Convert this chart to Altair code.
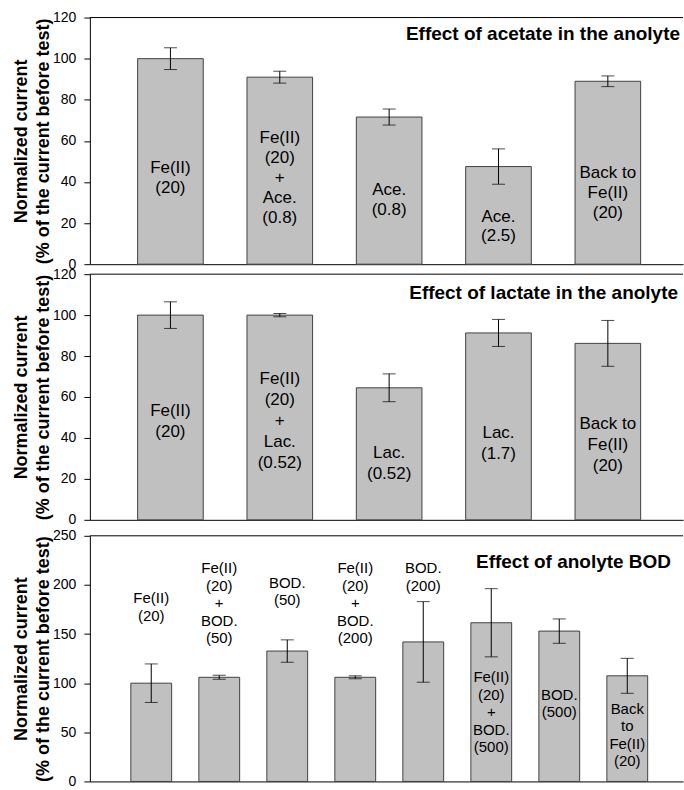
import altair as alt
import pandas as pd

FONT = "Liberation Sans"
W = 594

# ---- Panel A: acetate ----
a_cats = ["A1", "A2", "A3", "A4", "A5"]
a_vals = [100.0, 91.0, 71.6, 47.5, 89.0]
a_errs = [5.3, 2.9, 3.9, 8.6, 2.6]
a_labels = ["Fe(II)\n(20)", "Fe(II)\n(20)\n+\nAce.\n(0.8)", "Ace.\n(0.8)",
            "Ace.\n(2.5)", "Back to\nFe(II)\n(20)"]
a_label_at = [46.7, 61.2, 36.2, 23.2, 44.2]
a_title = "Effect of acetate in the anolyte"

# ---- Panel B: lactate ----
b_cats = ["B1", "B2", "B3", "B4", "B5"]
b_vals = [100.0, 100.0, 64.5, 91.3, 86.2]
b_errs = [6.5, 0.8, 6.8, 6.6, 11.2]
b_labels = ["Fe(II)\n(20)", "Fe(II)\n(20)\n+\nLac.\n(0.52)", "Lac.\n(0.52)",
            "Lac.\n(1.7)", "Back to\nFe(II)\n(20)"]
b_label_at = [53.1, 68.6, 32.8, 42.6, 46.7]
b_title = "Effect of lactate in the anolyte"

# ---- Panel C: BOD ----
c_cats = ["C1", "C2", "C3", "C4", "C5", "C6", "C7", "C8"]
c_vals = [100.0, 106.0, 132.7, 106.0, 142.0, 161.5, 153.0, 107.5]
c_errs = [19.6, 2.0, 11.4, 1.5, 41.0, 34.7, 12.4, 17.8]
c_labels = ["Fe(II)\n(20)", "Fe(II)\n(20)\n+\nBOD.\n(50)", "BOD.\n(50)",
            "Fe(II)\n(20)\n+\nBOD.\n(200)", "BOD.\n(200)",
            "Fe(II)\n(20)\n+\nBOD.\n(500)", "BOD.\n(500)", "Back\nto\nFe(II)\n(20)"]
c_label_at = [186.5, 217.0, 202.4, 217.0, 217.0, 105.8, 88.2, 73.7]
c_title = "Effect of anolyte BOD"

y_title = ["Normalized current", "(% of the current before test)"]


def panel(cats, vals, errs, labels, label_at, ymax, ystep, title, title_at,
          title_right, height, top_gap, po, al, fs, lh):
    df = pd.DataFrame({
        "cat": cats,
        "val": vals,
        "lo": [v - e for v, e in zip(vals, errs)],
        "hi": [v + e for v, e in zip(vals, errs)],
        "label": labels,
        "label_at": label_at,
    })
    xs = alt.Scale(paddingInner=0.4, paddingOuter=po, align=al)
    ys = alt.Scale(domain=[0, ymax], nice=False, range=[height, top_gap])
    x = alt.X("cat:N", sort=cats, scale=xs,
              axis=alt.Axis(labels=False, ticks=False, title=None,
                            domainColor="#000000", domainWidth=1))
    y_axis = alt.Axis(values=list(range(0, ymax + 1, ystep)), title=y_title,
                      titleFont=FONT, titleFontSize=18, titleFontWeight="bold",
                      titleLineHeight=22, titleColor="#000000", titlePadding=0,
                      labelFont=FONT, labelFontSize=14, labelColor="#000000",
                      labelPadding=8, tickSize=6, tickColor="#000000",
                      domainColor="#000000", grid=False)
    base = alt.Chart(df)
    bars = base.mark_bar(fill="#c0c0c0", stroke="#404040", strokeWidth=1).encode(
        x=x, y=alt.Y("val:Q", scale=ys, axis=y_axis))
    err = base.mark_rule(color="#000000", strokeWidth=1).encode(
        x=alt.X("cat:N", sort=cats), y="lo:Q", y2="hi:Q")
    cap_lo = base.mark_tick(color="#000000", size=13, thickness=1).encode(
        x=alt.X("cat:N", sort=cats), y="lo:Q")
    cap_hi = base.mark_tick(color="#000000", size=13, thickness=1).encode(
        x=alt.X("cat:N", sort=cats), y="hi:Q")
    txt = base.mark_text(font=FONT, fontSize=fs, lineHeight=lh, lineBreak="\n",
                         align="center", baseline="middle", color="#000000").encode(
        x=alt.X("cat:N", sort=cats), y="label_at:Q", text="label:N")
    tdf = pd.DataFrame({"t": [title], "at": [title_at], "top": [ymax]})
    ttl = alt.Chart(tdf).mark_text(font=FONT, fontSize=19, fontWeight="bold",
                                   align="right", baseline="middle",
                                   color="#000000").encode(
        x=alt.value(title_right), y="at:Q", text="t:N")
    top = alt.Chart(tdf).mark_rule(color="#000000", strokeWidth=1).encode(
        y="top:Q")
    return alt.layer(bars, err, cap_lo, cap_hi, txt, ttl, top).properties(
        width=W, height=height)


p1 = panel(a_cats, a_vals, a_errs, a_labels, a_label_at, 120, 20, a_title, 112,
           W - 3, 247, 0, 0.412, 0.53, 17, 20)
p2 = panel(b_cats, b_vals, b_errs, b_labels, b_label_at, 120, 20, b_title, 111,
           W - 5, 246, 0, 0.412, 0.53, 17, 21)
p3 = panel(c_cats, c_vals, c_errs, c_labels, c_label_at, 250, 50, c_title, 223,
           W - 12, 252, 6, 0.561, 0.537, 15, 17.5)

chart = alt.vconcat(p1, p2, p3, spacing=10, bounds="flush").properties(
    padding={"left": 12, "top": 10, "right": 0, "bottom": 5},
    background="white",
).configure_view(stroke=None)

chart.save("out.html", embed_options={"renderer": "svg", "actions": False})
